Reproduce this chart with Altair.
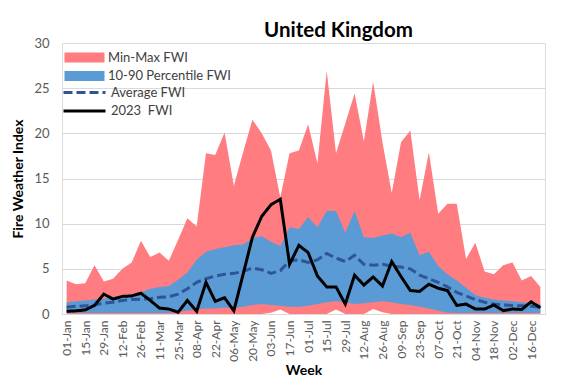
import altair as alt
import pandas as pd

weeks = ["01-Jan", "08-Jan", "15-Jan", "22-Jan", "29-Jan", "05-Feb", "12-Feb", "19-Feb",
         "26-Feb", "04-Mar", "11-Mar", "18-Mar", "25-Mar", "01-Apr", "08-Apr", "15-Apr",
         "22-Apr", "29-Apr", "06-May", "13-May", "20-May", "27-May", "03-Jun", "10-Jun",
         "17-Jun", "24-Jun", "01-Jul", "08-Jul", "15-Jul", "22-Jul", "29-Jul", "05-Aug",
         "12-Aug", "19-Aug", "26-Aug", "02-Sep", "09-Sep", "16-Sep", "23-Sep", "30-Sep",
         "07-Oct", "14-Oct", "21-Oct", "28-Oct", "04-Nov", "11-Nov", "18-Nov", "25-Nov",
         "02-Dec", "09-Dec", "16-Dec", "23-Dec"]

tick_labels = ["01-Jan", "15-Jan", "29-Jan", "12-Feb", "26-Feb", "11-Mar", "25-Mar", "08-Apr",
               "22-Apr", "06-May", "20-May", "03-Jun", "17-Jun", "01-Jul", "15-Jul", "29-Jul",
               "12-Aug", "26-Aug", "09-Sep", "23-Sep", "07-Oct", "21-Oct", "04-Nov", "18-Nov",
               "02-Dec", "16-Dec"]

max_fwi = [3.7, 3.3, 3.4, 5.4, 3.6, 3.9, 5.0, 5.7, 8.1, 6.3, 6.8, 5.9, 8.2, 10.6, 9.7, 17.8,
           17.6, 20.1, 14.2, 17.9, 21.5, 20.0, 18.1, 12.9, 17.8, 18.1, 21.0, 16.7, 26.9, 17.8,
           21.1, 24.4, 19.1, 25.7, 19.0, 13.4, 19.0, 20.3, 12.6, 17.9, 11.1, 12.2, 12.2, 6.1,
           7.9, 4.7, 4.4, 5.4, 5.7, 3.7, 4.2, 3.0]

p90_fwi = [1.3, 1.4, 1.5, 1.6, 1.7, 1.9, 2.0, 2.2, 2.4, 2.8, 3.0, 3.1, 3.8, 4.6, 6.0, 6.9,
           7.2, 7.4, 7.6, 7.7, 8.4, 8.6, 8.0, 7.5, 9.6, 9.4, 10.7, 9.6, 11.4, 11.4, 9.0, 11.4,
           8.5, 8.4, 8.7, 8.9, 8.5, 9.0, 6.5, 6.9, 5.3, 4.4, 3.7, 2.9, 2.1, 1.8, 1.6, 1.5,
           1.4, 1.3, 1.2, 1.1]

p10_fwi = [0.1, 0.1, 0.1, 0.1, 0.1, 0.1, 0.1, 0.1, 0.1, 0.1, 0.1, 0.1, 0.2, 0.4, 0.5, 0.6,
           0.6, 0.7, 0.7, 0.8, 1.0, 1.1, 1.0, 0.9, 0.8, 0.8, 0.9, 1.1, 1.3, 1.4, 1.3, 1.1,
           1.2, 1.3, 1.4, 1.3, 1.1, 1.0, 0.8, 0.6, 0.35, 0.15, 0.1, 0.1, 0.1, 0.1, 0.1, 0.1,
           0.1, 0.1, 0.1, 0.1]

min_fwi = [0.0, 0.0, 0.0, 0.0, 0.0, 0.0, 0.0, 0.0, 0.0, 0.0, 0.0, 0.0, 0.0, 0.0, 0.0, 0.0,
           0.0, 0.0, 0.0, 0.0, 0.0, 0.0, 0.15, 0.5, 0.0, 0.0, 0.0, 0.0, 0.0, 0.5, 0.0, 0.0,
           0.0, 0.55, 0.2, 0.0, 0.0, 0.0, 0.0, 0.0, 0.0, 0.0, 0.0, 0.0, 0.0, 0.0, 0.0, 0.0,
           0.0, 0.0, 0.0, 0.0]

avg_fwi = [0.75, 0.85, 0.9, 1.0, 1.2, 1.3, 1.5, 1.6, 1.65, 1.7, 1.85, 1.9, 2.2, 2.8, 3.5, 3.9,
           4.2, 4.4, 4.5, 4.7, 5.1, 4.9, 4.5, 4.8, 5.9, 6.0, 5.7, 6.0, 6.7, 6.2, 5.8, 6.5,
           5.5, 5.4, 5.5, 5.3, 5.2, 5.0, 4.3, 3.9, 3.5, 3.0, 2.4, 2.0, 1.6, 1.3, 1.1, 1.0,
           0.95, 0.9, 0.85, 0.75]

fwi_2023 = [0.3, 0.35, 0.45, 0.95, 2.2, 1.65, 1.95, 2.0, 2.3, 1.5, 0.65, 0.55, 0.2, 1.5, 0.3, 3.5,
            1.4, 1.8, 0.35, 4.4, 8.5, 10.8, 12.1, 12.7, 5.5, 7.6, 6.8, 4.2, 3.0, 3.0, 1.1, 4.3,
            3.2, 4.1, 3.1, 5.8, 4.15, 2.6, 2.5, 3.3, 2.85, 2.6, 0.95, 1.1, 0.55, 0.55, 1.0, 0.37,
            0.55, 0.5, 1.35, 0.7]

band_names = ["Min-Max FWI", "10-90 Percentile FWI"]
line_names = ["Average FWI", "2023\u00a0 FWI"]
band_colors = ["#FF7C80", "#5B9BD5"]
line_colors = ["#2F5597", "#000000"]

FONT = "Lato"
n = len(weeks)

bands = pd.DataFrame({
    "week": weeks * 2,
    "band": [band_names[0]] * n + [band_names[1]] * n,
    "lo": min_fwi + p10_fwi,
    "hi": max_fwi + p90_fwi,
})
lines = pd.DataFrame({
    "week": weeks * 2,
    "series": [line_names[0]] * n + [line_names[1]] * n,
    "value": avg_fwi + fwi_2023,
})

x_enc = alt.X(
    "week:O", sort=weeks,
    scale=alt.Scale(type="point", padding=0.5),
    axis=alt.Axis(values=tick_labels, labelAngle=-90, title="Week", ticks=False, domain=False,
                  labelFontSize=12, labelFont=FONT, labelColor="#595959", labelPadding=6,
                  titleFont=FONT, titleFontSize=14, titleFontWeight="bold", titleColor="#000000",
                  titlePadding=2, grid=False),
)

y_axis = alt.Axis(values=[0, 5, 10, 15, 20, 25, 30], title="Fire Weather Index", ticks=False,
                  domain=False, gridColor="#D9D9D9", gridWidth=1, labelFont=FONT, labelFontSize=13,
                  labelColor="#595959", labelPadding=13, titleFont=FONT, titleFontSize=14,
                  titleFontWeight="bold", titleColor="#000000", titlePadding=8)
y_scale = alt.Scale(domain=[0, 30], nice=False)

fill_legend = alt.Legend(title=None, orient="none", legendX=-4, legendY=8,
                         symbolType="M0,-5H40V5H0Z", symbolSize=4, symbolStrokeWidth=0,
                         labelOffset=37, labelFont=FONT, labelFontSize=13, labelColor="#404040",
                         rowPadding=4.5, padding=0, symbolOpacity=1)
line_legend = alt.Legend(title=None, orient="none", legendX=-5, legendY=43,
                         symbolType="M0,0H42", symbolSize=4, symbolStrokeWidth=3,
                         labelOffset=41, labelFont=FONT, labelFontSize=13, labelColor="#404040",
                         rowPadding=4.5, padding=0)

fill_enc = alt.Fill("band:N", scale=alt.Scale(domain=band_names, range=band_colors),
                    legend=fill_legend)

layers = []
for name in band_names:
    layers.append(
        alt.Chart(bands).transform_filter(alt.datum.band == name)
        .mark_area(opacity=1, interpolate="linear")
        .encode(x=x_enc,
                y=alt.Y("lo:Q", scale=y_scale, axis=y_axis),
                y2="hi:Q",
                fill=fill_enc)
    )

color_enc = alt.Color("series:N", scale=alt.Scale(domain=line_names, range=line_colors),
                      legend=line_legend)
dash_enc = alt.StrokeDash("series:N", scale=alt.Scale(domain=line_names, range=[[9, 4], [1, 0]]),
                          legend=line_legend)

for name in line_names:
    layers.append(
        alt.Chart(lines).transform_filter(alt.datum.series == name)
        .mark_line(strokeWidth=3, interpolate="linear")
        .encode(x=x_enc,
                y=alt.Y("value:Q", scale=y_scale, axis=y_axis),
                color=color_enc,
                strokeDash=dash_enc)
    )

chart = alt.layer(*layers).properties(
    width=483, height=271,
    title=alt.TitleParams("United Kingdom", fontSize=20.5, fontWeight="bold", font=FONT,
                          color="#000000", anchor="middle", dx=35, dy=10, offset=6),
    autosize=alt.AutoSizeParams(type="none"),
    padding={"left": 54, "top": 35, "right": 29, "bottom": 63},
).configure_view(stroke=None).configure(background="white")

chart.save("out.html", embed_options={"renderer": "svg", "actions": False})
